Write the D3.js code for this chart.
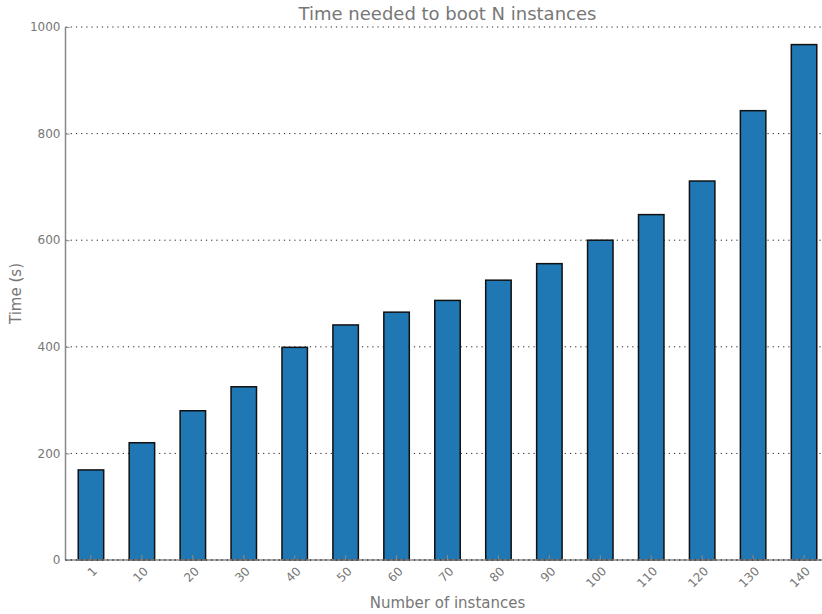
<!DOCTYPE html>
<html>
<head>
<meta charset="utf-8">
<script src="https://cdn.jsdelivr.net/npm/d3@7"></script>
<style>
  html, body { margin: 0; padding: 0; background: #fff; }
  svg { display: block; font-family: "DejaVu Sans", sans-serif; }
</style>
</head>
<body>
<svg id="chart" width="822" height="614"></svg>
<script>
// Boot time measurements per number of instances
const instances = ["1", "10", "20", "30", "40", "50", "60", "70", "80", "90", "100", "110", "120", "130", "140"];
const bootTimes = [169, 220, 280, 325, 399, 441, 465, 487, 525, 556, 600, 648, 711, 843, 967];
const yTicks = [0, 200, 400, 600, 800, 1000];

const svg = d3.select("#chart");
const margin = { left: 65.5, right: 829.5, top: 27, bottom: 560 };
const textColor = "#777";
const spineColor = "#888";

const x = d3.scaleBand()
  .domain(instances)
  .range([margin.left, margin.right])
  .paddingInner(0.5)
  .paddingOuter(0.25);

const y = d3.scaleLinear()
  .domain([0, 1000])
  .range([margin.bottom, margin.top]);

// dotted horizontal grid
svg.append("g")
  .selectAll("line")
  .data(yTicks)
  .join("line")
  .attr("x1", margin.left)
  .attr("x2", margin.right)
  .attr("y1", d => y(d))
  .attr("y2", d => y(d))
  .attr("stroke", "#222")
  .attr("stroke-width", 1)
  .attr("stroke-dasharray", "1.2,4");

// bars
svg.append("g")
  .selectAll("rect")
  .data(bootTimes)
  .join("rect")
  .attr("x", (d, i) => x(instances[i]))
  .attr("y", d => y(d))
  .attr("width", x.bandwidth())
  .attr("height", d => y(0) - y(d))
  .attr("fill", "#1f77b4")
  .attr("stroke", "#111")
  .attr("stroke-width", 1.5);

// y axis: ticks pointing inward
const yAxis = svg.append("g")
  .attr("transform", `translate(${margin.left},0)`)
  .call(d3.axisRight(y).tickValues(yTicks).tickSize(4).tickFormat(""));
yAxis.select(".domain").remove();
yAxis.selectAll(".tick line").attr("stroke", spineColor).attr("stroke-width", 1);
svg.append("g")
  .selectAll("text")
  .data(yTicks)
  .join("text")
  .attr("x", margin.left - 5)
  .attr("y", d => y(d))
  .attr("dy", "0.35em")
  .attr("text-anchor", "end")
  .attr("fill", textColor)
  .attr("font-size", 12)
  .text(d => d);

// x axis: ticks pointing inward, rotated labels
const xAxis = svg.append("g")
  .attr("transform", `translate(0,${margin.bottom})`)
  .call(d3.axisTop(x).tickSize(5).tickFormat(""));
xAxis.select(".domain").remove();
xAxis.selectAll(".tick line").attr("stroke", spineColor).attr("stroke-width", 1);
svg.append("g")
  .selectAll("text")
  .data(instances)
  .join("text")
  .attr("transform", d => `translate(${x(d) + x.bandwidth() / 2 + 4},${margin.bottom + 9}) rotate(-45)`)
  .attr("text-anchor", "end")
  .attr("dy", "0.35em")
  .attr("fill", textColor)
  .attr("font-size", 12)
  .text(d => d);

// spines (left and bottom)
svg.append("line")
  .attr("x1", margin.left).attr("x2", margin.left)
  .attr("y1", margin.top).attr("y2", margin.bottom)
  .attr("stroke", spineColor).attr("stroke-width", 1.5);
svg.append("line")
  .attr("x1", margin.left).attr("x2", margin.right)
  .attr("y1", margin.bottom).attr("y2", margin.bottom)
  .attr("stroke", spineColor).attr("stroke-width", 1.5);
svg.append("line")
  .attr("x1", margin.left).attr("x2", margin.right)
  .attr("y1", margin.bottom).attr("y2", margin.bottom)
  .attr("stroke", "#222").attr("stroke-width", 1)
  .attr("stroke-dasharray", "1.2,4");

// titles
const cx = (margin.left + margin.right) / 2;
svg.append("text")
  .attr("x", cx).attr("y", 20)
  .attr("text-anchor", "middle")
  .attr("fill", textColor)
  .attr("font-size", 18)
  .text("Time needed to boot N instances");

svg.append("text")
  .attr("x", cx).attr("y", 608)
  .attr("text-anchor", "middle")
  .attr("fill", textColor)
  .attr("font-size", 15)
  .text("Number of instances");

svg.append("text")
  .attr("transform", `translate(21,${(margin.top + margin.bottom) / 2}) rotate(-90)`)
  .attr("text-anchor", "middle")
  .attr("fill", textColor)
  .attr("font-size", 15)
  .text("Time (s)");
</script>
</body>
</html>
